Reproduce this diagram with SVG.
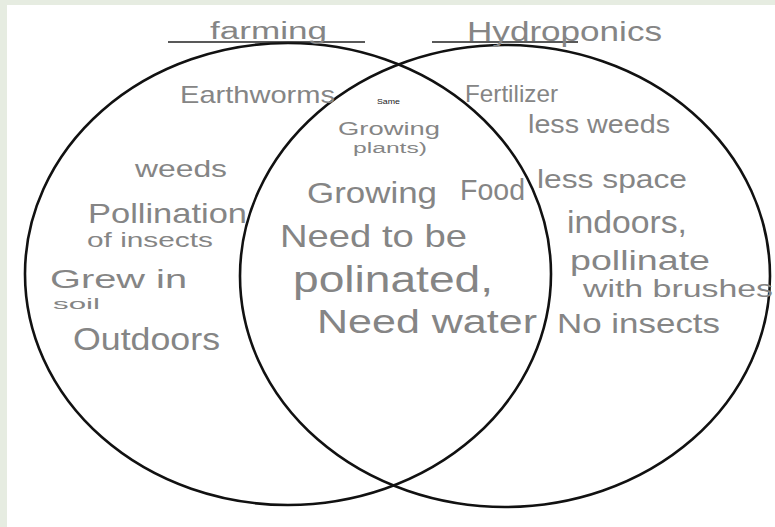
<svg xmlns="http://www.w3.org/2000/svg" width="775" height="527" viewBox="0 0 775 527">
<style>
.ring{fill:none;stroke:#111;stroke-width:2.6}
.ul{stroke:#222;stroke-width:1.6}
.hw{font-family:"Liberation Sans","DejaVu Sans",sans-serif;fill:#858585}
.small{font-family:"Liberation Sans",sans-serif;fill:#222;font-size:7px}
</style>
<rect x="0" y="0" width="775" height="527" fill="#e6ece1"/>
<rect x="7" y="5" width="768" height="522" fill="#ffffff"/>
<g id="set-farming">
<ellipse class="ring" cx="288" cy="274" rx="263" ry="231"/>
<line class="ul" x1="168" y1="42" x2="365" y2="42"/>
<text class="hw" x="210" y="39" font-size="23" textLength="117" lengthAdjust="spacingAndGlyphs">farming</text>
</g>
<g id="set-hydroponics">
<ellipse class="ring" cx="505" cy="276" rx="265" ry="231"/>
<line class="ul" x1="432" y1="42" x2="578" y2="42"/>
<text class="hw" x="467" y="41" font-size="27" textLength="195" lengthAdjust="spacingAndGlyphs">Hydroponics</text>
</g>
<g id="farming-items">
<text class="hw" x="180" y="103" font-size="24" textLength="155" lengthAdjust="spacingAndGlyphs">Earthworms</text>
<text class="hw" x="135" y="177" font-size="24" textLength="92" lengthAdjust="spacingAndGlyphs">weeds</text>
<text class="hw" x="88" y="223" font-size="28" textLength="159" lengthAdjust="spacingAndGlyphs">Pollination</text>
<text class="hw" x="87" y="247" font-size="21" textLength="126" lengthAdjust="spacingAndGlyphs">of insects</text>
<text class="hw" x="50" y="288" font-size="26" textLength="137" lengthAdjust="spacingAndGlyphs">Grew in</text>
<text class="hw" x="53" y="309" font-size="15" textLength="47" lengthAdjust="spacingAndGlyphs">soil</text>
<text class="hw" x="73" y="350" font-size="31" textLength="147" lengthAdjust="spacingAndGlyphs">Outdoors</text>
</g>
<g id="shared-items">
<text class="small" x="377" y="104" textLength="23" lengthAdjust="spacingAndGlyphs">Same</text>
<text class="hw" x="338" y="135" font-size="19" textLength="102" lengthAdjust="spacingAndGlyphs">Growing</text>
<text class="hw" x="353" y="153" font-size="14" textLength="74" lengthAdjust="spacingAndGlyphs">plants)</text>
<text class="hw" x="307" y="203" font-size="30" textLength="130" lengthAdjust="spacingAndGlyphs">Growing</text>
<text class="hw" x="460" y="200" font-size="30" textLength="65" lengthAdjust="spacingAndGlyphs">Food</text>
<text class="hw" x="280" y="247" font-size="32" textLength="187" lengthAdjust="spacingAndGlyphs">Need to be</text>
<text class="hw" x="293" y="292" font-size="36" textLength="200" lengthAdjust="spacingAndGlyphs">polinated,</text>
<text class="hw" x="317" y="333" font-size="33" textLength="220" lengthAdjust="spacingAndGlyphs">Need water</text>
</g>
<g id="hydroponics-items">
<text class="hw" x="465" y="102" font-size="24" textLength="93" lengthAdjust="spacingAndGlyphs">Fertilizer</text>
<text class="hw" x="528" y="133" font-size="26" textLength="142" lengthAdjust="spacingAndGlyphs">less weeds</text>
<text class="hw" x="537" y="188" font-size="25" textLength="150" lengthAdjust="spacingAndGlyphs">less space</text>
<text class="hw" x="567" y="233" font-size="31" textLength="120" lengthAdjust="spacingAndGlyphs">indoors,</text>
<text class="hw" x="570" y="270" font-size="27" textLength="140" lengthAdjust="spacingAndGlyphs">pollinate</text>
<text class="hw" x="583" y="297" font-size="23" textLength="190" lengthAdjust="spacingAndGlyphs">with brushes</text>
<text class="hw" x="557" y="333" font-size="28" textLength="163" lengthAdjust="spacingAndGlyphs">No insects</text>
</g>
<g id="connectors"></g>
</svg>
